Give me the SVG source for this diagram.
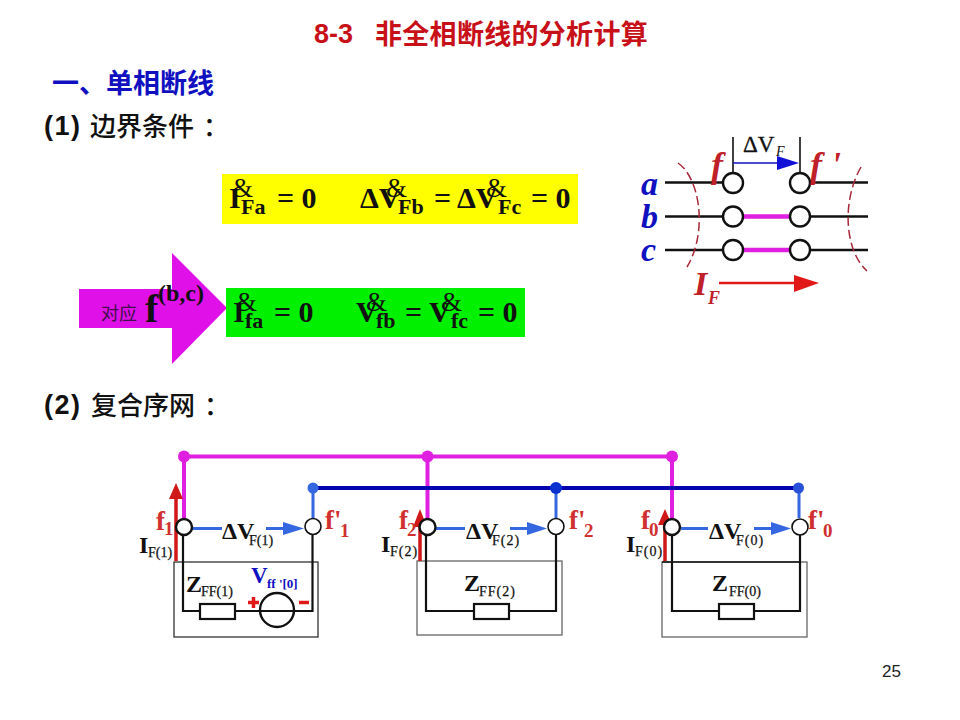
<svg xmlns="http://www.w3.org/2000/svg" width="960" height="720" viewBox="0 0 960 720">
<style>
.s{font-family:"Liberation Serif","Noto Serif CJK SC",serif;font-weight:700}
.h{font-family:"Liberation Sans","Noto Sans CJK SC",sans-serif;font-weight:700}
.c{font-family:"Noto Sans CJK SC",sans-serif;font-weight:500;font-size:26px;fill:#111}
.m{font-size:30px;fill:#111}
.sub{font-size:22px;fill:#111}
.amp{font-size:27px;font-weight:400;fill:#111}
.k{fill:none;stroke:#111;stroke-width:2.2}
.n{fill:#fff;stroke:#111;stroke-width:2.4}
.box{fill:none;stroke:#666;stroke-width:1.3}
.mg{stroke:#e020e0;stroke-width:4;fill:none}
.db{stroke:#0000b0;stroke-width:4;fill:none}
.lb{stroke:#3568e0;stroke-width:3;fill:none}
.lab{font-size:24px;fill:#111}
.lsub{font-size:14px;fill:#111;font-weight:400;stroke:#111;stroke-width:.25}
.fl{font-size:27px;fill:#d03030}
.fs{font-size:19px;fill:#d03030}
</style>
<g id="headings">
<text class="h" x="314" y="43" font-size="27" fill="#c81018">8-3</text>
<text class="h" x="375" y="44" font-size="27" letter-spacing=".3" fill="#c81018">非全相断线的分析计算</text>
<text class="h" x="52" y="93" font-size="27" fill="#1010c0">一、单相断线</text>
<text class="h" x="44" y="135" font-size="27" letter-spacing="1.500" fill="#111">(1)</text>
<text class="c" x="90" y="136">边界条件<tspan dx="9">：</tspan></text>
<text class="h" x="44" y="414" font-size="27" letter-spacing="1.500" fill="#111">(2)</text>
<text class="c" x="91" y="415">复合序网<tspan dx="9">：</tspan></text>
<text x="882" y="677" font-family="Liberation Sans,sans-serif" font-size="17" fill="#222">25</text>
</g>
<g id="yellow-formula">
<rect x="222" y="174" width="356" height="50" fill="#ffff00"/>
<text class="s m" x="229" y="208">I</text><text class="s amp" x="232" y="197">&amp;</text><text class="s sub" x="241" y="214">Fa</text>
<text class="s m" x="277" y="208">= 0</text>
<text class="s m" x="360" y="208">ΔV</text><text class="s amp" x="386" y="197">&amp;</text><text class="s sub" x="398" y="214">Fb</text>
<text class="s m" x="434" y="208">= ΔV</text><text class="s amp" x="486" y="197">&amp;</text><text class="s sub" x="498" y="214">Fc</text>
<text class="s m" x="531" y="208">= 0</text>
</g>
<g id="pointer-arrow">
<polygon points="79,289 172,289 172,253 227,308 172,364 172,328 79,328" fill="#e010e8"/>
<text x="101" y="320" font-family="Noto Sans CJK SC,sans-serif" font-size="18" fill="#40104a">对应</text>
<text class="s" x="145" y="322" font-size="40" fill="#111">f</text>
<text class="s" x="158" y="301" font-size="24" fill="#111">(b,c)</text>
</g>
<g id="green-formula">
<rect x="226" y="288" width="299" height="49" fill="#00f000"/>
<text class="s m" x="233" y="322">I</text><text class="s amp" x="236" y="311">&amp;</text><text class="s sub" x="245" y="328">fa</text>
<text class="s m" x="274" y="322">= 0</text>
<text class="s m" x="356" y="322">V</text><text class="s amp" x="366" y="311">&amp;</text><text class="s sub" x="376" y="328">fb</text>
<text class="s m" x="405" y="322">= V</text><text class="s amp" x="441" y="311">&amp;</text><text class="s sub" x="451" y="328">fc</text>
<text class="s m" x="478" y="322">= 0</text>
</g>
<g id="phase-diagram">
<path class="k" style="stroke-width:2.4" d="M665 182.500H723M810 182.500H868M665 216.500H723M810 216.500H868M665 250H723M810 250H868"/>
<path class="k" style="stroke-width:1.600" d="M733 137V172M800 137V172"/>
<path d="M741 216.500H792M741 250H792" stroke="#e020e0" stroke-width="4.500"/>
<g class="n"><circle cx="733" cy="183" r="10"/><circle cx="800" cy="183" r="10"/><circle cx="733" cy="216.500" r="10"/><circle cx="800" cy="216.500" r="10"/><circle cx="733" cy="250" r="10"/><circle cx="800" cy="250" r="10"/></g>
<path d="M733 163H778" stroke="#1010c0" stroke-width="1.500"/><polygon points="777,156 799,163 777,170" fill="#1010d8"/>
<path d="M678 163C700 178 708 232 687 267M861 167C842 200 844 250 867 271" fill="none" stroke="#a82838" stroke-width="1.500" stroke-dasharray="9 4"/>
<path d="M719 283H796" stroke="#e01818" stroke-width="2.500"/><polygon points="794,275 819,283 794,292" fill="#e01818"/>
<g class="s" font-style="italic">
<text x="711" y="177" font-size="36" fill="#c02028">f</text>
<text x="810" y="177" font-size="36" fill="#c02028">f '</text>
<text x="641" y="195" font-size="34" fill="#1010c0">a</text>
<text x="641" y="228" font-size="34" fill="#1010c0">b</text>
<text x="641" y="261" font-size="34" fill="#1010c0">c</text>
<text x="694" y="295" font-size="34" fill="#c02028">I</text>
<text x="708" y="304" font-size="18" fill="#c02028">F</text>
</g>
<text x="743" y="152" font-family="Liberation Serif,serif" font-size="23" fill="#111" stroke="#111" stroke-width=".3">ΔV</text>
<text x="776" y="156" font-family="Liberation Serif,serif" font-size="14" font-style="italic" fill="#111">F</text>
</g>
<g id="connectors">
<path class="mg" d="M184 456.500H672M184 456.500V519M427.500 456.500V519M672 456.500V519"/>
<path class="db" d="M313 488H799"/>
<path class="lb" d="M313 488V518M556 488V518M799 488V518"/>
<circle cx="184" cy="456.500" r="6" fill="#e020e0"/><circle cx="427.500" cy="456.500" r="6" fill="#e020e0"/><circle cx="672" cy="456.500" r="6" fill="#e020e0"/>
<circle cx="313" cy="488" r="5.500" fill="#3568e0"/><circle cx="556" cy="488" r="6" fill="#0a30d0"/><circle cx="798.500" cy="488" r="5.500" fill="#2850d8"/>
</g>
<g id="network-1">
<rect class="box" x="174" y="562" width="144" height="75" style="stroke:#333"/>
<path class="k" d="M183 533V611H312.500V533"/>
<rect x="200" y="604" width="35" height="15" fill="#fff" stroke="#111" stroke-width="2.200"/>
<circle cx="277" cy="610" r="17" fill="none" stroke="#111" stroke-width="2.400"/>
<path d="M248 602.500H259M253.500 597V608M299 602.500H309" stroke="#e01818" stroke-width="3.500" fill="none"/>
<path d="M176 561V495" stroke="#d01818" stroke-width="3.500"/><polygon points="169,499 176,483 183,499" fill="#d01818"/>
<path class="lb" d="M192 528.500H222M266 528.500H285"/><polygon points="283,522 304,528.500 283,535" fill="#3568e0"/>
<circle class="n" cx="184" cy="527" r="8"/><circle class="n" cx="313" cy="526.500" r="8" style="stroke-width:1.600"/>
<text class="s fl" x="156" y="530">f</text><text class="s fs" x="164" y="535">1</text>
<text class="s fl" x="325" y="529">f'</text><text class="s fs" x="340" y="537">1</text>
<text class="s lab" x="139" y="553">I</text><text class="s lsub" x="148" y="557">F(1)</text>
<text class="s lab" x="222" y="539">ΔV</text><text class="s lsub" x="249" y="545">F(1)</text>
<text class="s" x="186" y="592" font-size="24" fill="#111">Z</text><text class="s lsub" x="201" y="596">FF(1)</text>
<text class="s" x="251" y="583" font-size="23" fill="#1010c0">V</text><text class="s" x="267" y="588" font-size="13" fill="#1010c0">ff '[0]</text>
</g>
<g id="network-2">
<rect class="box" x="417" y="561" width="145" height="74"/>
<path class="k" d="M426 533V611H556V533"/>
<rect x="474" y="604" width="35" height="15" fill="#fff" stroke="#111" stroke-width="2.200"/>
<path d="M420 561V525" stroke="#d01818" stroke-width="3.500"/><polygon points="413,527 420,509 427,527" fill="#d01818"/>
<path class="lb" d="M436 528.500H465M510 528.500H530"/><polygon points="527,522 547,528.500 527,535" fill="#3568e0"/>
<circle class="n" cx="427.500" cy="527" r="8"/><circle class="n" cx="556" cy="526.500" r="8" style="stroke-width:1.600"/>
<text class="s fl" x="399" y="529">f</text><text class="s fs" x="407" y="536">2</text>
<text class="s fl" x="569" y="529">f'</text><text class="s fs" x="584" y="537">2</text>
<text class="s lab" x="381" y="552">I</text><text class="s lsub" x="390" y="556" letter-spacing="1">F(2)</text>
<text class="s lab" x="466" y="539">ΔV</text><text class="s lsub" x="492" y="545" letter-spacing="1">F(2)</text>
<text class="s" x="464" y="591" font-size="24" fill="#111">Z</text><text class="s lsub" x="479" y="596" letter-spacing="1">FF(2)</text>
</g>
<g id="network-3">
<rect class="box" x="662" y="562" width="145" height="75"/>
<path d="M662 562H800" stroke="#111" stroke-width="1.300"/>
<path class="k" d="M672 533V611H800V533"/>
<rect x="719" y="604" width="35" height="15" fill="#fff" stroke="#111" stroke-width="2.200"/>
<path d="M665 561V522" stroke="#d01818" stroke-width="3.500"/><polygon points="658,525 665,509 672,525" fill="#d01818"/>
<path class="lb" d="M681 528.500H708M754 528.500H774"/><polygon points="771,522 791,528.500 771,535" fill="#3568e0"/>
<circle class="n" cx="672" cy="527" r="8"/><circle class="n" cx="800" cy="527" r="8" style="stroke-width:1.600"/>
<text class="s fl" x="641" y="529">f</text><text class="s fs" x="649" y="536">0</text>
<text class="s fl" x="808" y="529">f'</text><text class="s fs" x="823" y="537">0</text>
<text class="s lab" x="626" y="552">I</text><text class="s lsub" x="635" y="556" letter-spacing="1">F(0)</text>
<text class="s lab" x="709" y="539">ΔV</text><text class="s lsub" x="736" y="545" letter-spacing="1">F(0)</text>
<text class="s" x="712" y="591" font-size="24" fill="#111">Z</text><text class="s lsub" x="729" y="596">FF(0)</text>
</g>
</svg>
